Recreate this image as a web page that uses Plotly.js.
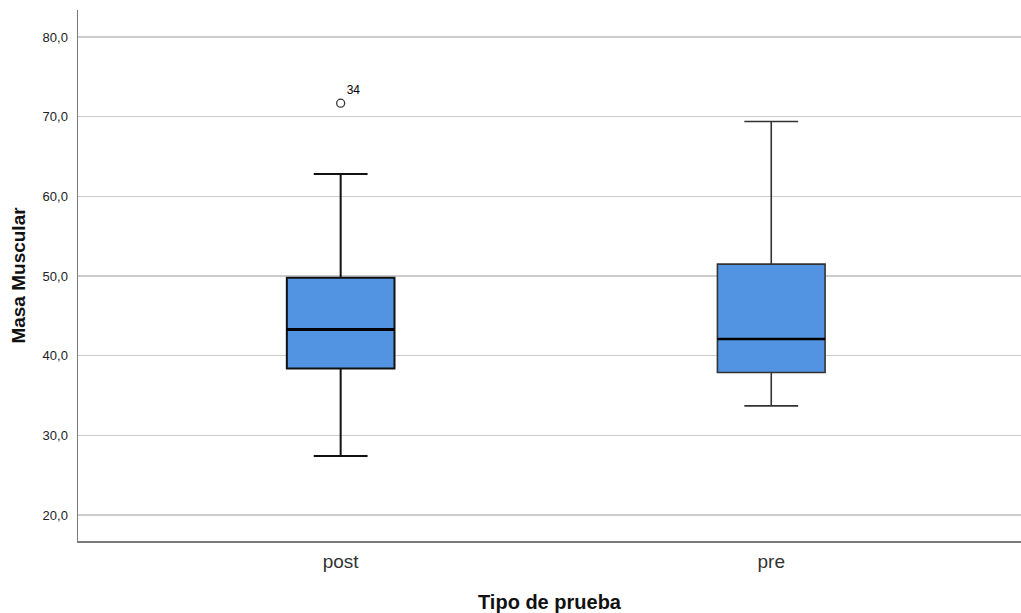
<!DOCTYPE html>
<html>
<head>
<meta charset="utf-8">
<script src="https://cdn.plot.ly/plotly-3.0.1.min.js"></script>
<style>html,body{margin:0;padding:0;background:#fff;}</style>
</head>
<body>
<div id="chart" style="width:1021px;height:613px;"></div>
<script>
const categories = ["post", "pre"];
const lowerWhisker = [27.4, 33.7];
const q1Values = [38.4, 37.9];
const medianValues = [43.3, 42.1];
const q3Values = [49.8, 51.5];
const upperWhisker = [62.8, 69.4];
const outlierCategory = ["post"];
const outlierValues = [71.7];
const outlierLabels = ["34"];
const yTicks = [20, 30, 40, 50, 60, 70, 80];

const catIndex = categories.map((c, i) => i);
const FONT = "Liberation Sans, Arial, sans-serif";

const traces = categories.map((c, i) => ({
  type: "box",
  x: [i],
  q1: [q1Values[i]],
  median: [medianValues[i]],
  q3: [q3Values[i]],
  lowerfence: [lowerWhisker[i]],
  upperfence: [upperWhisker[i]],
  width: 0.25,
  whiskerwidth: 0.5,
  fillcolor: "#5294e2",
  line: { color: i === 0 ? "#111111" : "#333333", width: i === 0 ? 2 : 1.6 },
  boxpoints: false,
  hoverinfo: "skip",
  showlegend: false
}));

// thicker median lines drawn as collapsed boxes at the median value
categories.forEach((c, i) => {
  traces.push({
    type: "box",
    x: [i],
    q1: [medianValues[i]],
    median: [medianValues[i]],
    q3: [medianValues[i]],
    lowerfence: [medianValues[i]],
    upperfence: [medianValues[i]],
    width: 0.25,
    whiskerwidth: 0,
    fillcolor: "rgba(0,0,0,0)",
    line: { color: "#000000", width: i === 0 ? 3 : 2.5 },
    boxpoints: false,
    hoverinfo: "skip",
    showlegend: false
  });
});

traces.push({
  type: "scatter",
  mode: "markers+text",
  x: outlierCategory.map(c => categories.indexOf(c)),
  y: outlierValues,
  text: outlierLabels,
  textposition: "top right",
  textfont: { family: FONT, size: 12, color: "#000000" },
  marker: { symbol: "circle-open", size: 8, color: "#333", line: { width: 1.3, color: "#333" } },
  showlegend: false,
  hoverinfo: "skip",
  cliponaxis: false
});

const layout = {
  width: 1021,
  height: 613,
  margin: { l: 78, r: 0, t: 10, b: 72 },
  paper_bgcolor: "#ffffff",
  plot_bgcolor: "#ffffff",
  separators: ",.",
  font: { family: FONT, color: "#222" },
  boxmode: "overlay",
  xaxis: {
    range: [-0.61, 1.58],
    tickmode: "array",
    tickvals: catIndex,
    ticktext: categories,
    showgrid: false,
    zeroline: false,
    showline: true,
    linecolor: "#7a7a7a",
    linewidth: 1.5,
    ticks: "",
    ticklabelstandoff: 3,
    tickfont: { size: 19, color: "#333" },
    title: { text: "Tipo de prueba", font: { size: 20, color: "#111", family: FONT, weight: "bold" }, standoff: 27 }
  },
  yaxis: {
    range: [16.74, 83.4],
    tickmode: "array",
    tickvals: yTicks,
    tickformat: ".1f",
    showgrid: true,
    gridcolor: "#cccccc",
    gridwidth: 1.5,
    zeroline: false,
    showline: true,
    linecolor: "#7a7a7a",
    linewidth: 1.5,
    ticks: "",
    ticklabelstandoff: 6,
    tickfont: { size: 13, color: "#222" },
    title: { text: "Masa Muscular", font: { size: 19, color: "#111", family: FONT, weight: "bold" }, standoff: 12 }
  }
};

Plotly.newPlot("chart", traces, layout, { displayModeBar: false, staticPlot: true });
</script>
</body>
</html>
